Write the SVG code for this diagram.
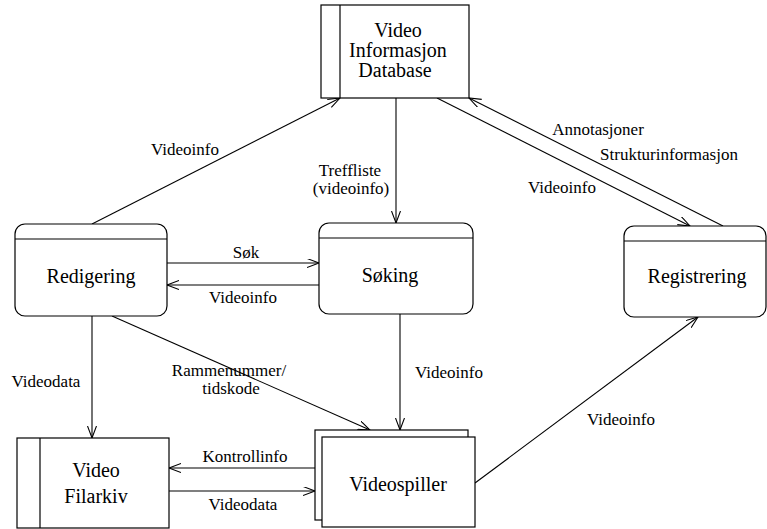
<svg xmlns="http://www.w3.org/2000/svg" width="767" height="529" viewBox="0 0 767 529" font-family="Liberation Serif, Times New Roman, DejaVu Serif, serif">
  <style>
    .box { fill: #ffffff; stroke: #000000; stroke-width: 1.2; }
    .ln { fill: none; stroke: #000000; stroke-width: 1.2; }
    .node { font-size: 20px; fill: #000000; text-anchor: middle; }
    .lbl { font-size: 17px; fill: #000000; text-anchor: middle; }
    .edge { fill: none; stroke: #000000; stroke-width: 1.1; marker-end: url(#open); }
  </style>
  <defs>
    <marker id="open" markerUnits="userSpaceOnUse" markerWidth="14" markerHeight="10" refX="12" refY="4.5" orient="auto">
      <path d="M0,0 L12,4.5 L0,9" fill="none" stroke="#000000" stroke-width="1.1"/>
    </marker>
  </defs>

  <rect width="767" height="529" fill="#ffffff"/>

  <g id="connectors">
    <line class="edge" x1="92" y1="224" x2="340" y2="98"/>
    <line class="edge" x1="396" y1="98" x2="396" y2="223"/>
    <line class="edge" x1="437" y1="98" x2="690" y2="226"/>
    <line class="edge" x1="723" y1="226" x2="469" y2="98"/>
    <line class="edge" x1="167" y1="263" x2="319" y2="263"/>
    <line class="edge" x1="319" y1="285" x2="167" y2="285"/>
    <line class="edge" x1="92" y1="316" x2="92" y2="438"/>
    <line class="edge" x1="112" y1="316" x2="370" y2="430"/>
    <line class="edge" x1="400" y1="314" x2="400" y2="430"/>
    <line class="edge" x1="315" y1="468" x2="169" y2="468"/>
    <line class="edge" x1="169" y1="491" x2="315" y2="491"/>
    <line class="edge" x1="475" y1="483" x2="698" y2="317"/>

    <text class="lbl" x="185" y="155">Videoinfo</text>
    <text class="lbl" x="350" y="176">Treffliste</text>
    <text class="lbl" x="351" y="194">(videoinfo)</text>
    <text class="lbl" x="598" y="135">Annotasjoner</text>
    <text class="lbl" x="669" y="160">Strukturinformasjon</text>
    <text class="lbl" x="562" y="193">Videoinfo</text>
    <text class="lbl" x="246" y="258">Søk</text>
    <text class="lbl" x="243" y="303">Videoinfo</text>
    <text class="lbl" x="46" y="387">Videodata</text>
    <text class="lbl" x="229" y="376">Rammenummer/</text>
    <text class="lbl" x="231" y="394">tidskode</text>
    <text class="lbl" x="449" y="378">Videoinfo</text>
    <text class="lbl" x="621" y="425">Videoinfo</text>
    <text class="lbl" x="245" y="462">Kontrollinfo</text>
    <text class="lbl" x="243" y="510">Videodata</text>
  </g>

  <g id="video-informasjon-database">
    <rect class="box" x="321" y="5" width="148" height="93"/>
    <line class="ln" x1="340" y1="5" x2="340" y2="98"/>
    <text class="node" x="398" y="37">Video</text>
    <text class="node" x="398" y="57">Informasjon</text>
    <text class="node" x="395" y="77">Database</text>
  </g>

  <g id="redigering">
    <rect class="box" x="15" y="224" width="152" height="92" rx="10" ry="10"/>
    <line class="ln" x1="15" y1="239" x2="167" y2="239"/>
    <text class="node" x="91" y="283">Redigering</text>
  </g>

  <g id="soking">
    <rect class="box" x="319" y="223" width="154" height="91" rx="10" ry="10"/>
    <line class="ln" x1="319" y1="238" x2="473" y2="238"/>
    <text class="node" x="390" y="282">Søking</text>
  </g>

  <g id="registrering">
    <rect class="box" x="624" y="226" width="142" height="91" rx="10" ry="10"/>
    <line class="ln" x1="624" y1="241" x2="766" y2="241"/>
    <text class="node" x="697" y="283">Registrering</text>
  </g>

  <g id="video-filarkiv">
    <rect class="box" x="17" y="438" width="152" height="90"/>
    <line class="ln" x1="40" y1="438" x2="40" y2="528"/>
    <text class="node" x="96" y="477">Video</text>
    <text class="node" x="96" y="503">Filarkiv</text>
  </g>

  <g id="videospiller">
    <rect class="box" x="315" y="430" width="153" height="90"/>
    <rect class="box" x="322" y="437" width="153" height="90"/>
    <text class="node" x="398" y="491">Videospiller</text>
  </g>
</svg>
